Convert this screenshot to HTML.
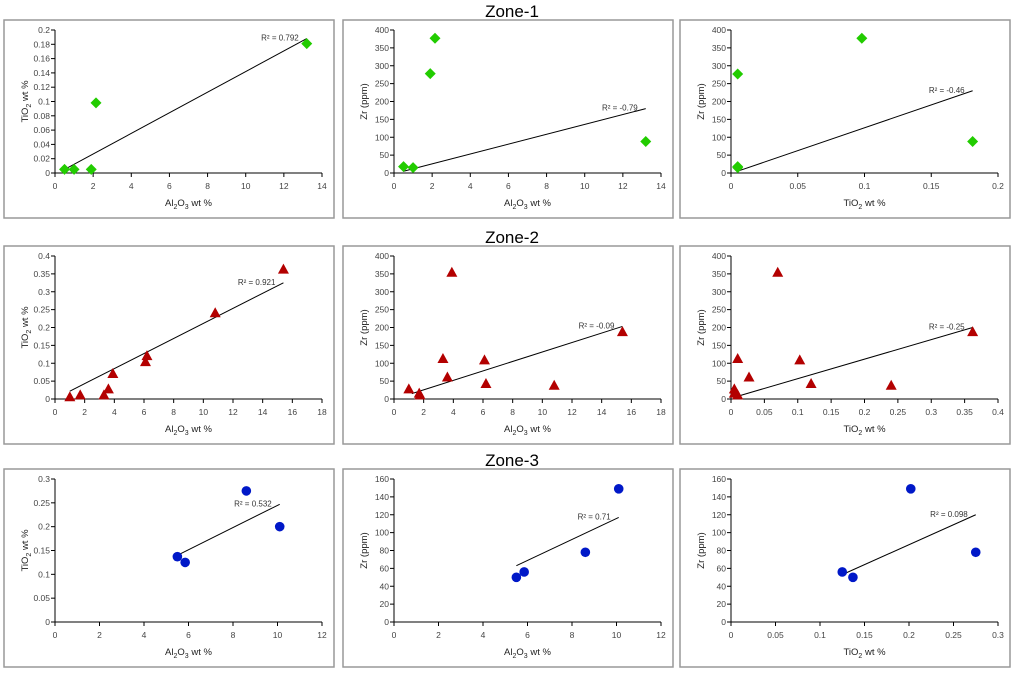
<!DOCTYPE html>
<html><head><meta charset="utf-8"><style>
body{margin:0;background:#fff;width:1024px;height:676px;overflow:hidden;font-family:"Liberation Sans",sans-serif}
svg{display:block}
</style></head><body>
<svg id="fig" width="1024" height="676">
<text x="512" y="17" text-anchor="middle" font-size="17" fill="#000">Zone-1</text>
<text x="512" y="243" text-anchor="middle" font-size="17" fill="#000">Zone-2</text>
<text x="512" y="466" text-anchor="middle" font-size="17" fill="#000">Zone-3</text>
</svg>
<script>
// ---- data ----
const z1aX=[0.5,1,1.9,2.15,13.2];
const z1aY=[0.005,0.005,0.005,0.098,0.181];
const z1aTrend=[[0.5,0.005],[13.2,0.188]];
const z1bX=[0.5,1,1.9,2.15,13.2];
const z1bY=[18,15,278,377,88];
const z1bTrend=[[0.5,5],[13.2,180]];
const z1cX=[0.005,0.005,0.005,0.098,0.181];
const z1cY=[18,277,15,377,88];
const z1cTrend=[[0.005,5],[0.181,230]];
const z2aX=[1,1.7,3.3,3.6,3.9,6.1,6.2,10.8,15.4];
const z2aY=[0.005,0.01,0.01,0.027,0.07,0.103,0.12,0.24,0.362];
const z2aTrend=[[1,0.022],[15.4,0.325]];
const z2bX=[1,1.7,1.75,3.3,3.6,3.9,6.1,6.2,10.8,15.4];
const z2bY=[27,15,10,112,60,353,108,42,37,187];
const z2bTrend=[[1.2,15],[15.4,203]];
const z2cX=[0.005,0.005,0.01,0.01,0.027,0.07,0.103,0.12,0.24,0.362];
const z2cY=[27,15,10,112,60,353,108,42,37,187];
const z2cTrend=[[0.005,5],[0.362,200]];
const z3aX=[5.5,5.85,8.6,10.1];
const z3aY=[0.137,0.125,0.275,0.2];
const z3aTrend=[[5.5,0.14],[10.1,0.247]];
const z3bX=[5.5,5.85,8.6,10.1];
const z3bY=[50,56,78,149];
const z3bTrend=[[5.5,63],[10.1,117]];
const z3cX=[0.125,0.137,0.202,0.275];
const z3cY=[56,50,149,78];
const z3cTrend=[[0.125,53],[0.275,120]];
const xTicksAl14=["0","2","4","6","8","10","12","14"];
const xTicksAl18=["0","2","4","6","8","10","12","14","16","18"];
const xTicksAl12=["0","2","4","6","8","10","12"];
const xTicksTi02=["0","0.05","0.1","0.15","0.2"];
const xTicksTi04=["0","0.05","0.1","0.15","0.2","0.25","0.3","0.35","0.4"];
const xTicksTi03=["0","0.05","0.1","0.15","0.2","0.25","0.3"];
const yTicksTi02=["0","0.02","0.04","0.06","0.08","0.1","0.12","0.14","0.16","0.18","0.2"];
const yTicksTi04=["0","0.05","0.1","0.15","0.2","0.25","0.3","0.35","0.4"];
const yTicksTi03=["0","0.05","0.1","0.15","0.2","0.25","0.3"];
const yTicksZr400=["0","50","100","150","200","250","300","350","400"];
const yTicksZr160=["0","20","40","60","80","100","120","140","160"];
const r2Labels=["R² = 0.792","R² = -0.79","R² = -0.46","R² = 0.921","R² = -0.09","R² = -0.25","R² = 0.532","R² = 0.71","R² = 0.098"];

const NS="http://www.w3.org/2000/svg";
const fig=document.getElementById('fig');
function mk(tag,attrs,parent){const e=document.createElementNS(NS,tag);for(const k in attrs)e.setAttribute(k,attrs[k]);parent.appendChild(e);return e;}

const AL='Al<tspan font-size="7" dy="3">2</tspan><tspan dy="-3">O</tspan><tspan font-size="7" dy="3">3</tspan><tspan dy="-3"> wt %</tspan>';
const TI='TiO<tspan font-size="7" dy="3">2</tspan><tspan dy="-3"> wt %</tspan>';
const ZR='Zr (ppm)';

const charts=[
 {id:'z1-al-ti',col:0,row:0,x:z1aX,y:z1aY,t:z1aTrend,xt:xTicksAl14,yt:yTicksTi02,xl:AL,yl:TI,m:'diamond',r:0},
 {id:'z1-al-zr',col:1,row:0,x:z1bX,y:z1bY,t:z1bTrend,xt:xTicksAl14,yt:yTicksZr400,xl:AL,yl:ZR,m:'diamond',r:1},
 {id:'z1-ti-zr',col:2,row:0,x:z1cX,y:z1cY,t:z1cTrend,xt:xTicksTi02,yt:yTicksZr400,xl:TI,yl:ZR,m:'diamond',r:2},
 {id:'z2-al-ti',col:0,row:1,x:z2aX,y:z2aY,t:z2aTrend,xt:xTicksAl18,yt:yTicksTi04,xl:AL,yl:TI,m:'triangle',r:3},
 {id:'z2-al-zr',col:1,row:1,x:z2bX,y:z2bY,t:z2bTrend,xt:xTicksAl18,yt:yTicksZr400,xl:AL,yl:ZR,m:'triangle',r:4},
 {id:'z2-ti-zr',col:2,row:1,x:z2cX,y:z2cY,t:z2cTrend,xt:xTicksTi04,yt:yTicksZr400,xl:TI,yl:ZR,m:'triangle',r:5},
 {id:'z3-al-ti',col:0,row:2,x:z3aX,y:z3aY,t:z3aTrend,xt:xTicksAl12,yt:yTicksTi03,xl:AL,yl:TI,m:'circle',r:6},
 {id:'z3-al-zr',col:1,row:2,x:z3bX,y:z3bY,t:z3bTrend,xt:xTicksAl12,yt:yTicksZr160,xl:AL,yl:ZR,m:'circle',r:7},
 {id:'z3-ti-zr',col:2,row:2,x:z3cX,y:z3cY,t:z3cTrend,xt:xTicksTi03,yt:yTicksZr160,xl:TI,yl:ZR,m:'circle',r:8},
];
const colL=[4,343,680], rowT=[20,246,469];
const colors={diamond:'#22cc00',triangle:'#b30000',circle:'#0018c8'};

charts.forEach(c=>{
 const L=colL[c.col], T=rowT[c.row];
 const g=mk('g',{},fig);
 
 
 const frame=mk('rect',{x:L,y:T,width:330,height:198,fill:'none',stroke:'#999','stroke-width':1.5},g);
 
 
 const x0=L+51,x1=L+318,y0=T+153,y1=T+10;
 const xmax=parseFloat(c.xt[c.xt.length-1]), ymax=parseFloat(c.yt[c.yt.length-1]);
 const sx=v=>x0+(x1-x0)*v/xmax, sy=v=>y0-(y0-y1)*v/ymax;
 const ax=mk('path',{d:`M${x0},${y1}V${y0}H${x1}`,fill:'none',stroke:'#000','stroke-width':1},g);
 
 
 c.xt.forEach(t=>{const v=parseFloat(t),px=sx(v);
  mk('line',{x1:px,x2:px,y1:y0,y2:y0+4,stroke:'#000'},g);
  const tx=mk('text',{x:px,y:y0+16,'text-anchor':'middle','font-size':8.5,fill:'#444'},g);tx.textContent=t;
  
  });
 c.yt.forEach(t=>{const v=parseFloat(t),py=sy(v);
  mk('line',{x1:x0-4,x2:x0,y1:py,y2:py,stroke:'#000'},g);
  const tx=mk('text',{x:x0-5,y:py+3,'text-anchor':'end','font-size':8.5,fill:'#444'},g);tx.textContent=t;
  
  });
 const xl=mk('text',{x:(x0+x1)/2,y:y0+33,'text-anchor':'middle','font-size':9.5,fill:'#222'},g);xl.innerHTML=c.xl;
 
 
 const yl=mk('text',{x:0,y:0,'text-anchor':'middle','font-size':9.5,fill:'#222',transform:`translate(${L+24},${(y0+y1)/2}) rotate(-90)`},g);yl.innerHTML=c.yl;
 
 
 const tl=mk('line',{x1:sx(c.t[0][0]),y1:sy(c.t[0][1]),x2:sx(c.t[1][0]),y2:sy(c.t[1][1]),stroke:'#000','stroke-width':1},g);
 
 
 const ex=sx(c.t[1][0]),ey=sy(c.t[1][1]);
 const rl=mk('text',{x:ex-8,y:ey+2,'text-anchor':'end','font-size':8,fill:'#333'},g);rl.textContent=r2Labels[c.r];
 
 
 const col=colors[c.m];
 c.x.forEach((xv,i)=>{const px=sx(xv),py=sy(c.y[i]);let e;
  if(c.m==='diamond')e=mk('polygon',{points:`${px},${py-5.5} ${px+5.5},${py} ${px},${py+5.5} ${px-5.5},${py}`,fill:col},g);
  else if(c.m==='triangle')e=mk('polygon',{points:`${px},${py-6} ${px+5.5},${py+4} ${px-5.5},${py+4}`,fill:col},g);
  else e=mk('circle',{cx:px,cy:py,r:4.8,fill:col},g);
  
  });
});
</script>
</body></html>
